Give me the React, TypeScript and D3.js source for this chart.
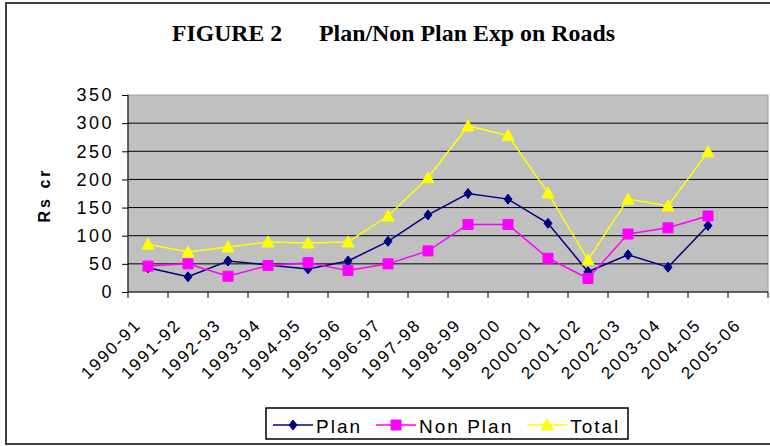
import { useEffect, useRef } from "react";
import * as d3 from "d3";

// Chart data
const years = [
  "1990-91", "1991-92", "1992-93", "1993-94", "1994-95", "1995-96", "1996-97", "1997-98",
  "1998-99", "1999-00", "2000-01", "2001-02", "2002-03", "2003-04", "2004-05", "2005-06",
];
const plan = [43, 27, 55, 48, 41, 55, 90, 137, 175, 165, 122, 36, 66, 44, 118, null];
const nonPlan = [46, 50, 28, 47, 52, 38, 50, 73, 120, 120, 60, 24, 103, 114, 135, null];
const total = [85, 71, 80, 89, 87, 89, 135, 203, 295, 278, 176, 57, 165, 153, 249, null];
const yTicks = [0, 50, 100, 150, 200, 250, 300, 350];
const seriesNames = ["Plan", "Non Plan", "Total"];
const titleLeft = "FIGURE 2";
const titleRight = "Plan/Non Plan Exp on Roads";
const yLabel = "Rs cr";

const sans = "'Liberation Sans', Arial, sans-serif";
const serif = "'Liberation Serif', 'Times New Roman', serif";

export default function App() {
  const svgRef = useRef<SVGSVGElement>(null);

  useEffect(() => {
    const width = 770,
      height = 446;
    const left = 128,
      right = 768,
      top = 95,
      bottom = 292;

    const svg = d3.select(svgRef.current).attr("width", width).attr("height", height);
    svg.selectAll("*").remove();

    // outer frame
    svg
      .append("rect")
      .attr("x", 6)
      .attr("y", 3)
      .attr("width", 780)
      .attr("height", 441)
      .attr("fill", "white")
      .attr("stroke", "#404040")
      .attr("stroke-width", 2);

    // title
    svg
      .append("text")
      .attr("x", 172)
      .attr("y", 41)
      .attr("textLength", 110)
      .attr("lengthAdjust", "spacingAndGlyphs")
      .style("font", `bold 23px ${serif}`)
      .text(titleLeft);
    svg
      .append("text")
      .attr("x", 319)
      .attr("y", 41)
      .attr("textLength", 296)
      .attr("lengthAdjust", "spacingAndGlyphs")
      .style("font", `bold 23px ${serif}`)
      .text(titleRight);

    const x = d3.scaleBand().domain(years).range([left, right]);
    const y = d3.scaleLinear().domain([0, 350]).range([bottom, top]);

    // plot area
    svg
      .append("rect")
      .attr("x", left)
      .attr("y", top)
      .attr("width", right - left)
      .attr("height", bottom - top)
      .attr("fill", "#c0c0c0")
      .attr("stroke", "#a0a0a0");

    // gridlines
    svg
      .append("g")
      .selectAll("line")
      .data(yTicks.filter((d) => d > 0 && d < 350))
      .join("line")
      .attr("x1", left)
      .attr("x2", right)
      .attr("y1", (d) => y(d))
      .attr("y2", (d) => y(d))
      .attr("stroke", "black");

    // y axis
    const yAxis = svg
      .append("g")
      .attr("transform", `translate(${left},0)`)
      .call(d3.axisLeft(y).tickValues(yTicks).tickSize(6).tickPadding(8));
    yAxis.select(".domain").attr("stroke", "black").attr("d", `M0,${top}V${bottom}`);
    yAxis.selectAll("line").attr("stroke", "black");
    yAxis
      .selectAll("text")
      .style("font-family", sans)
      .style("font-size", "18px")
      .style("letter-spacing", "2.5px")
      .attr("fill", "black");

    // x axis
    const xAxis = svg
      .append("g")
      .attr("transform", `translate(0,${bottom})`)
      .call(d3.axisBottom(x).tickSize(0).tickFormat(() => ""));
    xAxis.select(".domain").attr("stroke", "black").attr("d", `M${left},0H${right}`);
    xAxis
      .append("g")
      .selectAll("line")
      .data(d3.range(years.length + 1))
      .join("line")
      .attr("x1", (i) => left + i * x.step())
      .attr("x2", (i) => left + i * x.step())
      .attr("y1", 0)
      .attr("y2", 6)
      .attr("stroke", "black");
    xAxis
      .append("g")
      .selectAll("text")
      .data(years)
      .join("text")
      .attr(
        "transform",
        (d) => `translate(${x(d)! + x.bandwidth() / 2 - 6},${34}) rotate(-45)`
      )
      .attr("text-anchor", "end")
      .style("font-family", sans)
      .style("font-size", "17px")
      .style("letter-spacing", "2px")
      .attr("fill", "black")
      .text((d) => d);

    // y label
    svg
      .append("text")
      .attr("transform", `translate(50,195) rotate(-90)`)
      .attr("text-anchor", "middle")
      .style("font", `bold 16px ${sans}`)
      .style("letter-spacing", "3px")
      .text(yLabel);

    const series = [
      { name: seriesNames[0], values: plan, color: "#000080", shape: "diamond" },
      { name: seriesNames[1], values: nonPlan, color: "#ff00ff", shape: "square" },
      { name: seriesNames[2], values: total, color: "#ffff00", shape: "triangle" },
    ];

    const markerPath = (shape: string) => {
      if (shape === "diamond") return "M0,-5L4,0L0,5L-4,0Z";
      if (shape === "square") return "M-5,-5H5V5H-5Z";
      return "M0,-6L6,5H-6Z";
    };

    const cx = (i: number) => x(years[i])! + x.bandwidth() / 2;

    series.forEach((s) => {
      const line = d3
        .line<number | null>()
        .defined((d) => d != null)
        .x((_, i) => cx(i))
        .y((d) => y(d as number));
      svg
        .append("path")
        .datum(s.values)
        .attr("d", line)
        .attr("fill", "none")
        .attr("stroke", s.color)
        .attr("stroke-width", 1.5);
      svg
        .append("g")
        .selectAll("path")
        .data(s.values.map((v, i) => ({ v, i })).filter((d) => d.v != null))
        .join("path")
        .attr("transform", (d) => `translate(${cx(d.i)},${y(d.v as number)})`)
        .attr("d", markerPath(s.shape))
        .attr("fill", s.color)
        .attr("stroke", s.color);
    });

    // legend
    const legend = svg.append("g");
    legend
      .append("rect")
      .attr("x", 266)
      .attr("y", 408)
      .attr("width", 362)
      .attr("height", 31)
      .attr("fill", "white")
      .attr("stroke", "black")
      .attr("stroke-width", 1.5);
    let lx = 273;
    series.forEach((s) => {
      const g = legend.append("g").attr("transform", `translate(${lx},425)`);
      g.append("line").attr("x1", 0).attr("x2", 40).attr("stroke", s.color).attr("stroke-width", 1.5);
      g.append("path")
        .attr("transform", "translate(20,0)")
        .attr("d", markerPath(s.shape))
        .attr("fill", s.color)
        .attr("stroke", s.color);
      const t = g
        .append("text")
        .attr("x", 43)
        .attr("y", 8)
        .style("font-family", sans)
        .style("font-size", "19px")
        .style("letter-spacing", "2px")
        .text(s.name);
      const w = (t.node() as SVGTextElement).getComputedTextLength();
      lx += 43 + w + 14;
    });
  }, []);

  return (
    <svg
      ref={svgRef}
      style={{ position: "absolute", left: 0, top: 0, display: "block" }}
    ></svg>
  );
}
